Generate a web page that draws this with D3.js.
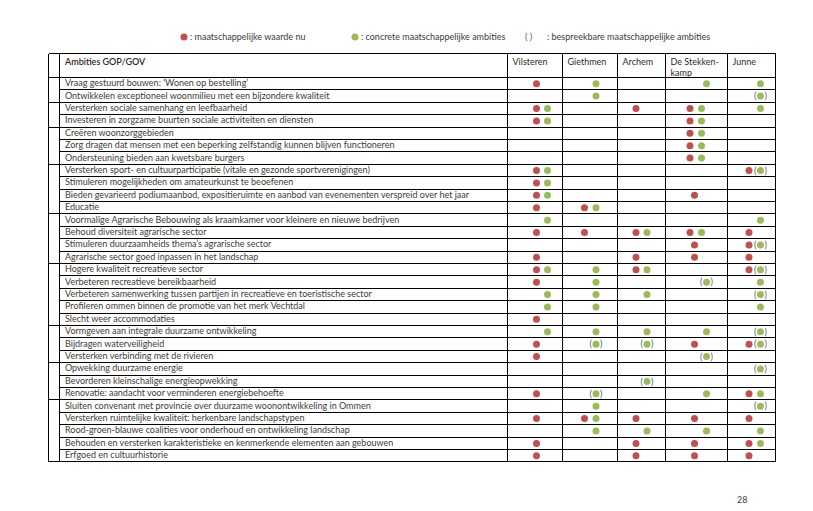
<!DOCTYPE html>
<html>
<head>
<meta charset="utf-8">
<script src="https://cdn.jsdelivr.net/npm/d3@7"></script>
<style>
  body { margin: 0; background: #fff; }
  svg { display: block; font-family: Lato, "Open Sans", sans-serif; }
</style>
</head>
<body>
<svg id="chart"></svg>
<script>
// ambities per kern: r = waarde nu, g = concrete ambitie, p = bespreekbare ambitie (groen tussen haakjes)
const ambities = [
    "Vraag gestuurd bouwen: \u2018Wonen op bestelling\u2019",
    "Ontwikkelen exceptioneel woonmilieu met een bijzondere kwaliteit",
    "Versterken sociale samenhang en leefbaarheid",
    "Investeren in zorgzame buurten sociale activiteiten en diensten",
    "Cre\u00ebren woonzorggebieden",
    "Zorg dragen dat mensen met een beperking zelfstandig kunnen blijven functioneren",
    "Ondersteuning bieden aan kwetsbare burgers",
    "Versterken sport- en cultuurparticipatie (vitale en gezonde sportverenigingen)",
    "Stimuleren mogelijkheden om amateurkunst te beoefenen",
    "Bieden gevarieerd podiumaanbod, expositieruimte en aanbod van evenementen verspreid over het jaar",
    "Educatie",
    "Voormalige Agrarische Bebouwing als kraamkamer voor kleinere en nieuwe bedrijven",
    "Behoud diversiteit agrarische sector",
    "Stimuleren duurzaamheids thema\u2019s agrarische sector",
    "Agrarische sector goed inpassen in het landschap",
    "Hogere kwaliteit recreatieve sector",
    "Verbeteren recreatieve bereikbaarheid",
    "Verbeteren samenwerking tussen partijen in recreatieve en toeristische sector",
    "Profileren ommen binnen de promotie van het merk Vechtdal",
    "Slecht weer accommodaties",
    "Vormgeven aan integrale duurzame ontwikkeling",
    "Bijdragen waterveiligheid",
    "Versterken verbinding met de rivieren",
    "Opwekking duurzame energie",
    "Bevorderen kleinschalige energieopwekking",
    "Renovatie: aandacht voor verminderen energiebehoefte",
    "Sluiten convenant met provincie over duurzame woonontwikkeling in Ommen",
    "Versterken ruimtelijke kwaliteit: herkenbare landschapstypen",
    "Rood-groen-blauwe coalities voor onderhoud en ontwikkeling landschap",
    "Behouden en versterken karakteristieke en kenmerkende elementen aan gebouwen",
    "Erfgoed en cultuurhistorie"
];

const kernen = ["Vilsteren", "Giethmen", "Archem", "De Stekken-|kamp", "Junne"];

const vilsteren = ["r","","rg","rg","","","","rg","rg","rg","r","g","r","","r","rg","r","g","g","r","g","r","r","","","r","","r","","r","r"];
const giethmen  = ["g","g","","","","","","","","","rg","","r","","","g","g","g","g","","g","p","","","","p","g","rg","g","",""];
const archem    = ["","","r","","","","","","","","","","rg","","r","rg","","g","","","g","p","","","p","","","r","g","r","r"];
const stekkenkamp = ["g","","rg","rg","rg","rg","rg","","","r","","","rg","r","r","","p","","","","g","r","p","","","g","","r","g","r","r"];
const junne     = ["g","p","g","","","","","rp","","","","g","r","rp","r","rp","g","p","g","","p","rp","","p","","rg","p","r","g","rg","r"];

const waarden = [vilsteren, giethmen, archem, stekkenkamp, junne];

// thema-groepen (laatste rij-index van elke groep) voor de smalle linkerkolom
const groepEinde = [1, 3, 6, 10, 14, 19, 22, 25, 30];

const legenda = [
    { soort: "r", tekst: ": maatschappelijke waarde nu" },
    { soort: "g", tekst: ": concrete maatschappelijke ambities" },
    { soort: "p", tekst: ": bespreekbare maatschappelijke ambities" }
];

const width = 813;
const height = 511;
const rood = "#c0504d";
const groen = "#9bbb59";
const tekstKleur = "#3e3a36";
const fontSize = "9px";

const svg = d3.select("#chart")
    .attr("width", width)
    .attr("height", height)
    .attr("viewBox", `0 0 ${width} ${height}`);

// layout tabel
const tabLinks = 48.5, themaRand = 59.5, tabRechts = 775.5;
const tabBoven = 53.5, kopOnder = 77, tabOnder = 461.5;
const kolomRanden = [507.5, 562.5, 617.5, 665.5, 727.5, 775.5];
// dot offsets in de cel: [rood in paar, groen in paar, rood alleen, groen alleen]
const dotOffsets = [[29, 40], [22, 33.5], [18.5, 29.5], [24.5, 36, 29, 41], [21.5, 33]];

const y = d3.scaleBand()
    .domain(d3.range(ambities.length))
    .range([kopOnder, tabOnder]);

const kolomX = d3.scaleOrdinal()
    .domain(kernen)
    .range(kolomRanden.slice(0, -1));

const lijnen = svg.append("g")
    .attr("stroke", "#000")
    .attr("stroke-width", 1)
    .attr("shape-rendering", "crispEdges");

// horizontale lijnen
const rijGrenzen = d3.range(ambities.length + 1).map(i => i === ambities.length ? tabOnder : Math.round(y(i)) + 0.5);
lijnen.selectAll(".h")
    .data(rijGrenzen)
    .enter()
    .append("line")
    .attr("x1", (d, i) => (i === 0 || i === ambities.length || groepEinde.includes(i - 1)) ? tabLinks : themaRand)
    .attr("x2", tabRechts)
    .attr("y1", d => d)
    .attr("y2", d => d);

lijnen.append("line")
    .attr("x1", tabLinks).attr("x2", tabRechts)
    .attr("y1", tabBoven).attr("y2", tabBoven);

// verticale lijnen
lijnen.selectAll(".v")
    .data([tabLinks, themaRand].concat(kolomRanden))
    .enter()
    .append("line")
    .attr("x1", d => d).attr("x2", d => d)
    .attr("y1", tabBoven).attr("y2", tabOnder);

// kop
svg.append("text")
    .attr("x", 65)
    .attr("y", 64.5)
    .attr("font-size", fontSize)
    .attr("font-weight", 600)
    .attr("fill", "#2e2a27")
    .text("Ambities GOP/GOV");

kernen.forEach(k => {
    const t = svg.append("text")
        .attr("font-size", fontSize)
        .attr("fill", "#2e2a27");
    k.split("|").forEach((regel, i) => {
        t.append("tspan")
            .attr("x", kolomX(k) + 5)
            .attr("y", 64.5 + i * 11)
            .text(regel);
    });
});

// rijteksten
svg.append("g")
    .selectAll("text")
    .data(ambities)
    .enter()
    .append("text")
    .attr("x", 65)
    .attr("y", (d, i) => y(i) + y.bandwidth() / 2 + 3)
    .attr("font-size", fontSize)
    .attr("fill", tekstKleur)
    .text(d => d);

// stippen
function tekenStip(g, soort, cx, cy) {
    g.append("circle")
        .attr("cx", cx)
        .attr("cy", cy)
        .attr("r", 3.5)
        .attr("fill", soort === "r" ? rood : groen);
    if (soort === "p") {
        g.append("text")
            .attr("x", cx - 6.5)
            .attr("y", cy + 3.2)
            .attr("font-size", "9px")
            .attr("fill", "#4d5a7a")
            .text("(");
        g.append("text")
            .attr("x", cx + 4)
            .attr("y", cy + 3.2)
            .attr("font-size", "9px")
            .attr("fill", "#4d5a7a")
            .text(")");
    }
}

const stippen = svg.append("g");
waarden.forEach((kolom, c) => {
    const x0 = kolomX(kernen[c]);
    const off = dotOffsets[c];
    kolom.forEach((v, i) => {
        if (!v) return;
        const cy = y(i) + y.bandwidth() / 2 + 0.5;
        if (v.length === 2) {
            tekenStip(stippen, "r", x0 + off[0], cy);
            tekenStip(stippen, v[1], x0 + off[1], cy);
        } else if (v === "r") {
            tekenStip(stippen, "r", x0 + (off[2] !== undefined ? off[2] : off[0]), cy);
        } else {
            tekenStip(stippen, v, x0 + (off[3] !== undefined ? off[3] : off[1]), cy);
        }
    });
});

// legenda
const legendaX = [184, 355, 532];
legenda.forEach((l, i) => {
    const g = svg.append("g");
    if (l.soort === "p") {
        g.append("text")
            .attr("x", legendaX[i] - 7)
            .attr("y", 40)
            .attr("font-size", fontSize)
            .attr("fill", "#4d5a7a")
            .text("(    )");
    } else {
        g.append("circle")
            .attr("cx", legendaX[i])
            .attr("cy", 37)
            .attr("r", 3.5)
            .attr("fill", l.soort === "r" ? rood : groen);
    }
    g.append("text")
        .attr("x", legendaX[i] + (l.soort === "p" ? 15 : 6))
        .attr("y", 40)
        .attr("font-size", fontSize)
        .attr("fill", tekstKleur)
        .text(l.tekst);
});

// paginanummer
svg.append("text")
    .attr("x", 737)
    .attr("y", 503)
    .attr("font-size", fontSize)
    .attr("fill", tekstKleur)
    .text("28");
</script>
</body>
</html>
